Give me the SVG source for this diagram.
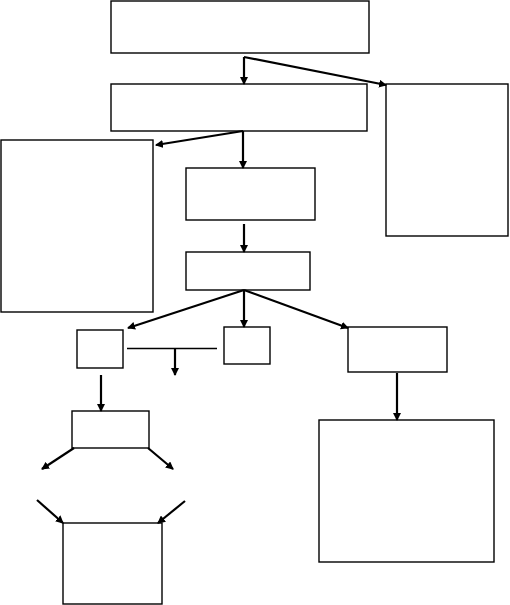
<svg xmlns="http://www.w3.org/2000/svg" width="510" height="605" viewBox="0 0 510 605">
<style>
.box{fill:#fff;stroke:#000;stroke-width:1.4}
.c{fill:none;stroke:#000;stroke-width:2.2}
.t{fill:none;stroke:#000;stroke-width:1.3}
</style>
<defs>
<marker id="ah" markerWidth="8" markerHeight="8" refX="7" refY="4" orient="auto" markerUnits="userSpaceOnUse">
<path d="M0,0 L8,4 L0,8 Z" fill="#000"/>
</marker>
</defs>
<rect width="510" height="605" fill="#fff"/>
<g id="n1"><rect class="box" x="111" y="1" width="258" height="52"/></g>
<g id="n2"><rect class="box" x="111" y="84" width="256" height="47"/></g>
<g id="n3"><rect class="box" x="386" y="84" width="122" height="152"/></g>
<g id="n4"><rect class="box" x="1" y="140" width="152" height="172"/></g>
<g id="n5"><rect class="box" x="186" y="168" width="129" height="52"/></g>
<g id="n6"><rect class="box" x="186" y="252" width="124" height="38"/></g>
<g id="n7"><rect class="box" x="77" y="330" width="46" height="38"/></g>
<g id="n8"><rect class="box" x="224" y="327" width="46" height="37"/></g>
<g id="n9"><rect class="box" x="348" y="327" width="99" height="45"/></g>
<g id="n10"><rect class="box" x="72" y="411" width="77" height="37"/></g>
<g id="n11"><rect class="box" x="63" y="523" width="99" height="81"/></g>
<g id="n12"><rect class="box" x="319" y="420" width="175" height="142"/></g>
<g id="connectors">
<path class="c" d="M244,57 L244,84" marker-end="url(#ah)"/>
<path class="c" d="M244,57 L386,85" marker-end="url(#ah)"/>
<path class="c" d="M243,131 L156,145" marker-end="url(#ah)"/>
<path class="c" d="M243,131 L243,168" marker-end="url(#ah)"/>
<path class="c" d="M244,224 L244,252" marker-end="url(#ah)"/>
<path class="c" d="M244,290 L128,328" marker-end="url(#ah)"/>
<path class="c" d="M244,290 L244,327" marker-end="url(#ah)"/>
<path class="c" d="M244,290 L348,328" marker-end="url(#ah)"/>
<path class="t" d="M127,348.5 L217,348.5"/>
<path class="c" d="M175,348 L175,375" marker-end="url(#ah)"/>
<path class="c" d="M101,375 L101,411" marker-end="url(#ah)"/>
<path class="c" d="M74,448 L42,469" marker-end="url(#ah)"/>
<path class="c" d="M148,448 L173,469" marker-end="url(#ah)"/>
<path class="c" d="M37,500 L63,523" marker-end="url(#ah)"/>
<path class="c" d="M185,501 L158,523" marker-end="url(#ah)"/>
<path class="c" d="M397,373 L397,420" marker-end="url(#ah)"/>
</g>
</svg>
